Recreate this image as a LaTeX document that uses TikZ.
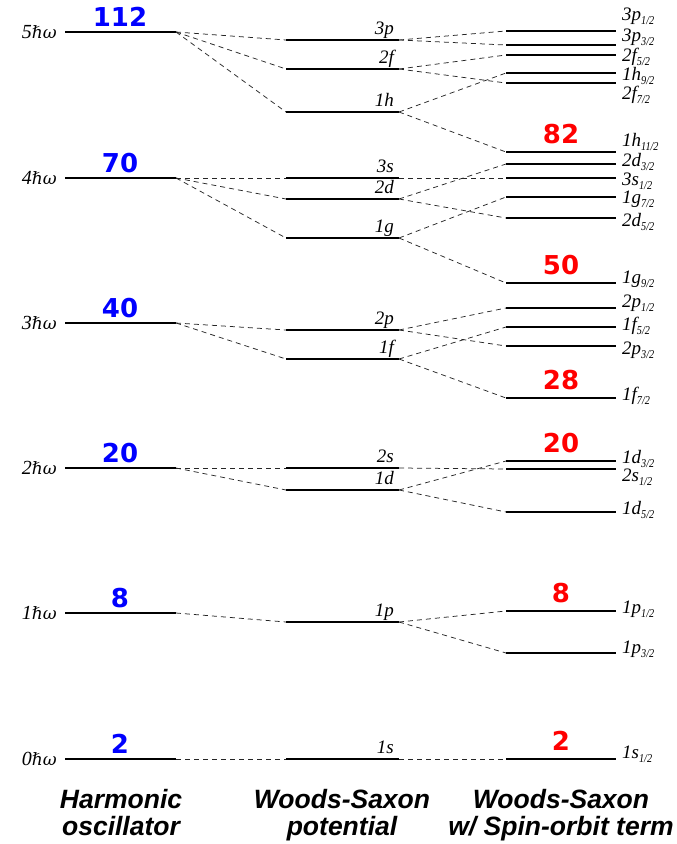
\documentclass[tikz,border=0pt]{standalone}
\usepackage{fontspec}
\setmainfont{Liberation Serif}
\newfontfamily\numfont{DejaVu Sans}
\newfontfamily\hbarfont{DejaVu Serif}
\newfontfamily\titlefont{Liberation Sans}
\newcommand{\subhalf}[1]{\raisebox{-4.5pt}{\scalebox{0.85}[1]{\fontsize{12}{12}\selectfont #1/2}}}
\begin{document}
\begin{tikzpicture}[x=1pt,y=-1pt,
  level/.style={line width=1.8pt,black},
  conn/.style={line width=0.75pt,black!85,dash pattern=on 5pt off 4pt},
  elabel/.style={inner sep=0pt,anchor=base east,font=\fontsize{20}{20}\selectfont\itshape},
  wslabel/.style={inner sep=0pt,anchor=base east,font=\fontsize{19}{19}\selectfont\itshape},
  solabel/.style={inner sep=0pt,anchor=base west,font=\fontsize{19}{19}\selectfont\itshape},
  magicblue/.style={inner sep=0pt,anchor=base,text={rgb,255:red,0;green,0;blue,255},font=\numfont\bfseries\fontsize{26}{26}\selectfont},
  magicred/.style={inner sep=0pt,anchor=base,text={rgb,255:red,255;green,0;blue,0},font=\numfont\bfseries\fontsize{26}{26}\selectfont},
  coltitle/.style={inner sep=0pt,anchor=north,align=center,font=\titlefont\bfseries\itshape\fontsize{26.5}{27.5}\selectfont}]
\useasboundingbox (0,0) rectangle (677,844);

% Harmonic oscillator levels
\foreach \nn/\yy/\mm in {5/32/112,4/178/70,3/323/40,2/468/20,1/613/8,0/759/2}{
  \coordinate (ho\nn-L) at (65,\yy);
  \coordinate (ho\nn-R) at (176,\yy);
  \draw[level] (ho\nn-L) -- (ho\nn-R);
  \node[elabel] (hoe\nn) at (57,\yy+6) {\nn{\hbarfont\fontsize{17}{17}\selectfont ℏω}};
  \node[magicblue] (hom\nn) at (120,\yy-6) {\mm};
}

% Woods-Saxon levels
\foreach \nn/\yy in {3p/40,2f/69,1h/112,3s/178,2d/199,1g/238,2p/330,1f/359,2s/468,1d/490,1p/622,1s/759}{
  \coordinate (ws\nn-L) at (286,\yy);
  \coordinate (ws\nn-R) at (399,\yy);
  \draw[level] (ws\nn-L) -- (ws\nn-R);
  \node[wslabel] (wsl\nn) at (394,\yy-6) {\nn};
}

% Woods-Saxon with spin-orbit levels
\foreach \nn/\jj/\yy/\bb in {3p/1/31/20,3p/3/45/41,2f/5/55/61,1h/9/73/80,2f/7/83/99,
  1h/11/152/146,2d/3/164/166,3s/1/178/185,1g/7/197/203,2d/5/218/226,
  1g/9/283/283,2p/1/308/307,1f/5/327/330,2p/3/346/354,1f/7/398/400,
  1d/3/461/463,2s/1/469/481,1d/5/512/514,1p/1/611/613,1p/3/653/653,1s/1/759/758}{
  \coordinate (so\nn\jj-L) at (506,\yy);
  \coordinate (so\nn\jj-R) at (616,\yy);
  \draw[level] (so\nn\jj-L) -- (so\nn\jj-R);
  \node[solabel] (sol\nn\jj) at (622,\bb) {\nn\subhalf{\jj}};
}

% magic numbers (spin-orbit)
\foreach \nn/\yy/\mm in {1h11/152/82,1g9/283/50,1f7/398/28,1d3/461/20,1p1/611/8,1s1/759/2}{
  \node[magicred] (som\mm) at (561,\yy-8.5) {\mm};
}

% connectors HO -> WS
\foreach \aa/\bb in {5/3p,5/2f,5/1h,4/3s,4/2d,4/1g,3/2p,3/1f,2/2s,2/1d,1/1p,0/1s}{
  \draw[conn] (ho\aa-R) -- (ws\bb-L);
}

% connectors WS -> SO
\foreach \aa/\bb in {3p/3p1,3p/3p3,2f/2f5,2f/2f7,1h/1h9,1h/1h11,3s/3s1,2d/2d3,2d/2d5,
  1g/1g7,1g/1g9,2p/2p1,2p/2p3,1f/1f5,1f/1f7,2s/2s1,1d/1d3,1d/1d5,1p/1p1,1p/1p3,1s/1s1}{
  \draw[conn] (ws\aa-R) -- (so\bb-L);
}

% column titles
\node[coltitle] (t1) at (121,789) {Harmonic\\oscillator};
\node[coltitle] (t2) at (342,789) {Woods-Saxon\\potential};
\node[coltitle] (t3) at (561,789) {Woods-Saxon\\w/ Spin-orbit term};
\end{tikzpicture}
\end{document}
